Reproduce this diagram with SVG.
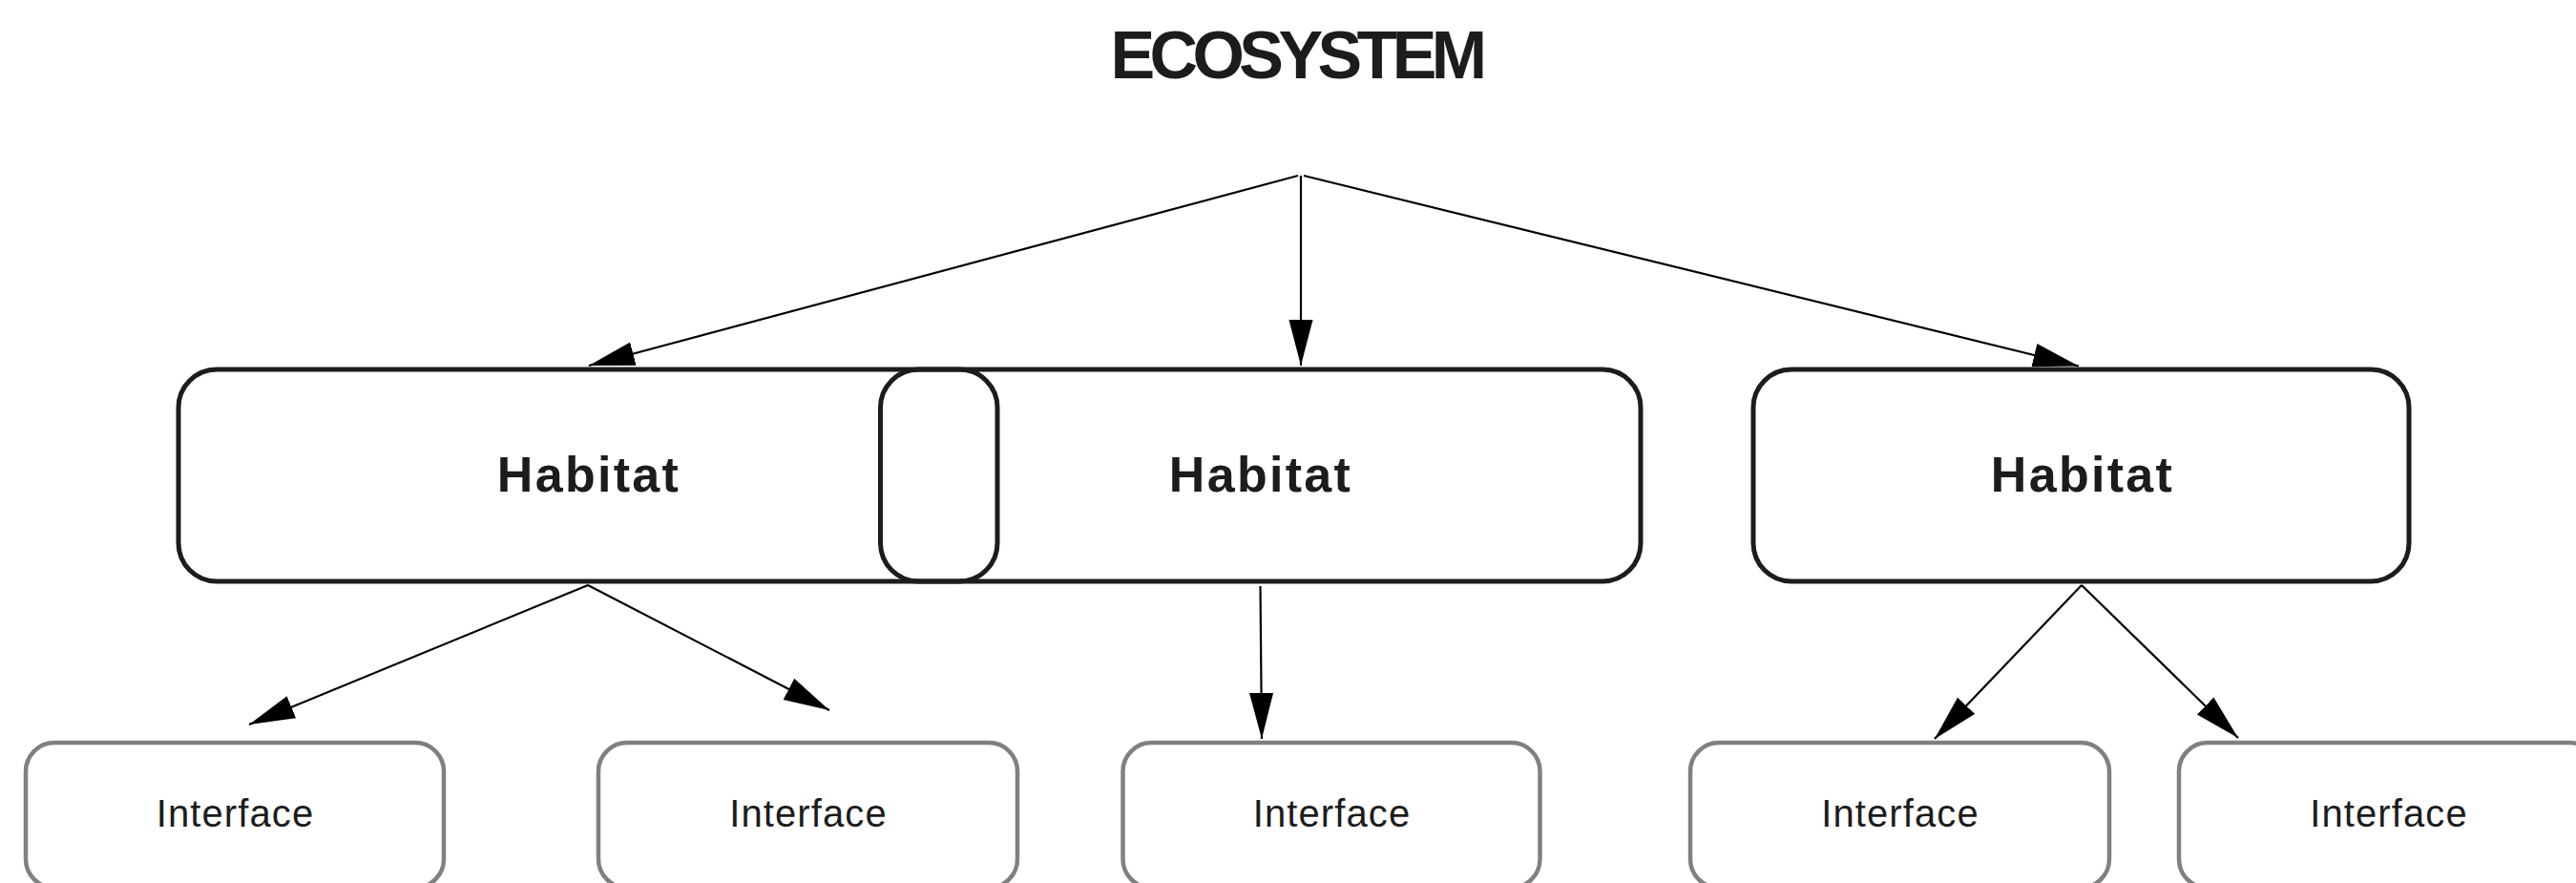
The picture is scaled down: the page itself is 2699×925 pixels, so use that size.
<svg xmlns="http://www.w3.org/2000/svg" width="2699" height="925" viewBox="0 0 2699 925">
<style>
.hab{fill:none;stroke:#1c1c1c;stroke-width:5}
.ifc{fill:none;stroke:#808080;stroke-width:4.5}
.htxt{font-family:"Liberation Sans",Arial,sans-serif;font-weight:bold;font-size:52px;fill:#1c1c1c;letter-spacing:2.3px;text-anchor:middle}
.itxt{font-family:"Liberation Sans",Arial,sans-serif;font-size:40px;fill:#1c1c1c;letter-spacing:1.1px;text-anchor:middle}
.title{font-family:"Liberation Sans",Arial,sans-serif;font-weight:bold;font-size:70px;fill:#1c1c1c;letter-spacing:-5.6px;text-anchor:middle}
.edge{fill:none;stroke:#000;stroke-width:2.2;marker-end:url(#arr)}
</style>
<defs>
<marker id="arr" markerUnits="userSpaceOnUse" markerWidth="48" markerHeight="26" viewBox="0 0 46 24" refX="46" refY="12" orient="auto">
<path d="M0,0 L46,12 L0,24 z" fill="#000"/>
</marker>
</defs>
<rect width="2699" height="925" fill="#fff"/>
<g id="title">
<text class="title" x="1358" y="82">ECOSYSTEM</text>
</g>
<g id="connectors">
<line class="edge" x1="1360" y1="184" x2="617" y2="383"/>
<line class="edge" x1="1363" y1="184" x2="1363" y2="383"/>
<line class="edge" x1="1366" y1="184" x2="2178" y2="383.5"/>
<line class="edge" x1="616" y1="613" x2="261" y2="759"/>
<line class="edge" x1="616" y1="613" x2="869" y2="744"/>
<line class="edge" x1="1320.5" y1="614" x2="1322" y2="774"/>
<line class="edge" x1="2181" y1="613" x2="2027" y2="774"/>
<line class="edge" x1="2181" y1="613" x2="2345" y2="773"/>
</g>
<g id="habitat1">
<rect class="hab" x="187" y="387" width="858" height="222" rx="40" ry="40"/>
<text class="htxt" x="617" y="515">Habitat</text>
</g>
<g id="habitat2">
<rect class="hab" x="922.5" y="387" width="796.5" height="222" rx="40" ry="40"/>
<text class="htxt" x="1321" y="515">Habitat</text>
</g>
<g id="habitat3">
<rect class="hab" x="1837" y="387" width="687" height="222" rx="40" ry="40"/>
<text class="htxt" x="2182" y="515">Habitat</text>
</g>
<g id="interface1">
<rect class="ifc" x="27" y="778" width="438" height="152" rx="30" ry="30"/>
<text class="itxt" x="246.5" y="866">Interface</text>
</g>
<g id="interface2">
<rect class="ifc" x="627" y="778" width="439" height="152" rx="30" ry="30"/>
<text class="itxt" x="847" y="866">Interface</text>
</g>
<g id="interface3">
<rect class="ifc" x="1176.5" y="778" width="437" height="152" rx="30" ry="30"/>
<text class="itxt" x="1395.5" y="866">Interface</text>
</g>
<g id="interface4">
<rect class="ifc" x="1771" y="778" width="439" height="152" rx="30" ry="30"/>
<text class="itxt" x="1991" y="866">Interface</text>
</g>
<g id="interface5">
<rect class="ifc" x="2283" y="778" width="439" height="152" rx="30" ry="30"/>
<text class="itxt" x="2503" y="866">Interface</text>
</g>
</svg>
